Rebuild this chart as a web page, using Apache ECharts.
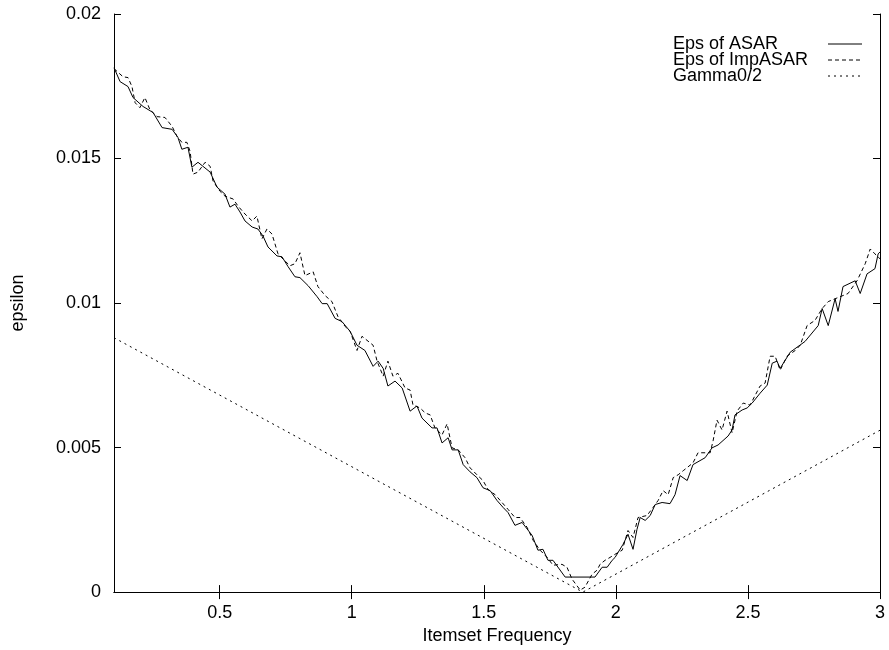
<!DOCTYPE html>
<html>
<head>
<meta charset="utf-8">
<script src="https://cdn.jsdelivr.net/npm/echarts@6/dist/echarts.min.js"></script>
<style>
html, body { margin: 0; padding: 0; background: #fff; }
#main { width: 889px; height: 650px; }
</style>
</head>
<body>
<div id="main"></div>
<script>
// values
var asarX = [0.100,0.123,0.153,0.172,0.210,0.248,0.282,0.320,0.342,0.357,
	0.380,0.395,0.418,0.464,0.490,0.520,0.539,0.558,0.577,0.596,
	0.623,0.645,0.664,0.683,0.717,0.736,0.759,0.785,0.804,0.835,
	0.869,0.888,0.907,0.937,0.963,0.994,1.020,1.050,1.081,1.100,
	1.119,1.137,1.164,1.191,1.221,1.247,1.266,1.304,1.323,1.342,
	1.365,1.380,1.403,1.422,1.448,1.474,1.497,1.524,1.550,1.573,
	1.592,1.618,1.645,1.683,1.705,1.724,1.743,1.762,1.808,1.921,
	1.948,1.967,1.986,1.997,2.027,2.046,2.065,2.080,2.092,2.111,
	2.130,2.149,2.175,2.205,2.224,2.243,2.270,2.292,2.338,2.364,
	2.387,2.425,2.440,2.451,2.478,2.497,2.516,2.546,2.573,2.592,
	2.610,2.622,2.660,2.716,2.766,2.781,2.804,2.830,2.841,2.860,
	2.906,2.925,2.951,2.981,2.993,3.000];
var asarY = [0.01814,0.01766,0.01749,0.01711,0.01680,0.01659,0.01607,0.01601,0.01573,0.01532,
	0.01539,0.01470,0.01487,0.01453,0.01401,0.01377,0.01332,0.01342,0.01315,0.01284,
	0.01263,0.01256,0.01232,0.01194,0.01163,0.01160,0.01126,0.01091,0.01088,0.01060,
	0.01022,0.00998,0.00998,0.00947,0.00936,0.00902,0.00854,0.00836,0.00781,0.00799,
	0.00774,0.00713,0.00730,0.00706,0.00626,0.00644,0.00602,0.00568,0.00568,0.00516,
	0.00534,0.00492,0.00492,0.00441,0.00416,0.00396,0.00361,0.00351,0.00317,0.00293,
	0.00275,0.00231,0.00241,0.00196,0.00145,0.00148,0.00110,0.00110,0.00052,0.00052,
	0.00086,0.00086,0.00110,0.00120,0.00165,0.00200,0.00148,0.00217,0.00258,0.00248,
	0.00265,0.00303,0.00310,0.00306,0.00337,0.00403,0.00386,0.00441,0.00465,0.00499,
	0.00509,0.00540,0.00561,0.00613,0.00630,0.00637,0.00654,0.00688,0.00716,0.00792,
	0.00799,0.00774,0.00830,0.00867,0.00922,0.00981,0.00922,0.01015,0.00971,0.01057,
	0.01077,0.01033,0.01101,0.01119,0.01170,0.01177];

var impX = [0.100,0.134,0.153,0.168,0.180,0.198,0.217,0.236,0.263,0.293,
	0.320,0.339,0.357,0.376,0.388,0.399,0.418,0.445,0.464,0.475,
	0.501,0.520,0.551,0.570,0.596,0.623,0.641,0.660,0.679,0.698,
	0.721,0.747,0.766,0.785,0.804,0.823,0.854,0.872,0.899,0.925,
	0.948,0.975,0.994,1.020,1.039,1.081,1.096,1.119,1.137,1.156,
	1.175,1.202,1.221,1.232,1.259,1.278,1.297,1.315,1.342,1.361,
	1.380,1.403,1.429,1.448,1.474,1.497,1.516,1.543,1.569,1.592,
	1.618,1.637,1.664,1.687,1.713,1.740,1.762,1.796,1.815,1.834,
	1.865,1.883,1.910,1.929,1.940,1.959,1.978,1.997,2.024,2.046,
	2.065,2.084,2.118,2.141,2.160,2.179,2.198,2.217,2.236,2.255,
	2.292,2.311,2.357,2.368,2.383,2.402,2.421,2.440,2.459,2.482,
	2.508,2.546,2.565,2.584,2.603,2.622,2.648,2.679,2.698,2.724,
	2.754,2.781,2.804,2.849,2.879,2.913,2.944,2.963,2.981,3.000];
var impY = [0.01811,0.01783,0.01780,0.01749,0.01693,0.01676,0.01711,0.01669,0.01645,0.01642,
	0.01611,0.01576,0.01556,0.01556,0.01525,0.01446,0.01453,0.01487,0.01473,0.01422,
	0.01387,0.01370,0.01360,0.01335,0.01308,0.01284,0.01301,0.01222,0.01256,0.01239,
	0.01170,0.01146,0.01129,0.01136,0.01174,0.01095,0.01108,0.01057,0.01026,0.01005,
	0.00953,0.00919,0.00902,0.00836,0.00885,0.00854,0.00799,0.00747,0.00799,0.00747,
	0.00757,0.00706,0.00699,0.00647,0.00637,0.00620,0.00613,0.00568,0.00544,0.00582,
	0.00499,0.00492,0.00465,0.00430,0.00406,0.00386,0.00355,0.00337,0.00310,0.00286,
	0.00258,0.00258,0.00224,0.00179,0.00145,0.00120,0.00093,0.00096,0.00086,0.00045,
	0.00007,0.00017,0.00062,0.00076,0.00096,0.00110,0.00120,0.00131,0.00145,0.00213,
	0.00189,0.00258,0.00265,0.00293,0.00317,0.00351,0.00337,0.00396,0.00406,0.00420,
	0.00447,0.00482,0.00482,0.00523,0.00595,0.00561,0.00626,0.00551,0.00626,0.00654,
	0.00647,0.00713,0.00723,0.00816,0.00816,0.00768,0.00816,0.00836,0.00854,0.00922,
	0.00940,0.00981,0.01005,0.01022,0.01033,0.01077,0.01136,0.01187,0.01170,0.01153];

var gammaX = [0.1, 1.875, 3];
var gammaY = [0.0088, 0, 0.0056];

var seriesNames = ['Eps of ASAR', 'Eps of ImpASAR', 'Gamma0/2'];
var xTicks = [0.5, 1, 1.5, 2, 2.5, 3];
var xTickLabels = ['0.5', '1', '1.5', '2', '2.5', '3'];
var yTickLabels = ['0', '0.005', '0.01', '0.015', '0.02'];

function zip(xs, ys) {
	var out = [];
	for (var i = 0; i < xs.length; i++) {
		out.push([xs[i], ys[i]]);
	}
	return out;
}

var font = "'Liberation Sans', Arial, sans-serif";
var black = '#000';

function lineSeries(name, xs, ys, dash) {
	return {
		name: name,
		type: 'line',
		symbol: 'none',
		data: zip(xs, ys),
		itemStyle: { color: black },
		lineStyle: { color: black, width: 1, type: dash },
		silent: true
	};
}

var chart = echarts.init(document.getElementById('main'));

chart.setOption({
	animation: false,
	backgroundColor: '#fff',
	textStyle: { fontFamily: font, color: black },
	grid: { left: 114, right: 9, top: 14, bottom: 55 },
	legend: {
		orient: 'vertical',
		left: 673,
		top: 35,
		padding: 0,
		align: 'right',
		itemWidth: 34,
		itemHeight: 10,
		itemGap: -2,
		selectedMode: false,
		data: seriesNames,
		itemStyle: { opacity: 0 },
		lineStyle: { width: 1 },
		// labels left-aligned in a fixed box, samples on the right
		formatter: function (name) {
			return '{t|' + name + '}';
		},
		textStyle: {
			rich: {
				t: { fontFamily: font, fontSize: 18, color: black, width: 150, align: 'left', lineHeight: 16.5 }
			}
		}
	},
	xAxis: [{
		type: 'value',
		min: 0.1,
		max: 3,
		position: 'bottom',
		name: 'Itemset Frequency',
		nameLocation: 'middle',
		nameGap: 34,
		nameTextStyle: { fontFamily: font, fontSize: 18, color: black },
		axisLine: { show: true, lineStyle: { color: black, width: 1 } },
		axisTick: { show: true, inside: true, length: 7, customValues: xTicks, lineStyle: { color: black } },
		axisLabel: {
			customValues: xTicks,
			margin: 12,
			fontSize: 18,
			color: black,
			formatter: function (v) {
				return xTickLabels[xTicks.indexOf(v)];
			}
		},
		splitLine: { show: false }
	}, {
		type: 'value',
		min: 0.1,
		max: 3,
		position: 'top',
		axisLine: { show: true, lineStyle: { color: black, width: 1 } },
		axisTick: { show: true, inside: true, length: 7, customValues: xTicks, lineStyle: { color: black } },
		axisLabel: { show: false },
		splitLine: { show: false }
	}],
	yAxis: [{
		type: 'value',
		min: 0,
		max: 0.02,
		interval: 0.005,
		position: 'left',
		name: 'epsilon',
		nameLocation: 'middle',
		nameGap: 87,
		nameTextStyle: { fontFamily: font, fontSize: 18, color: black },
		axisLine: { show: true, lineStyle: { color: black, width: 1 } },
		axisTick: { show: true, inside: true, length: 7, lineStyle: { color: black } },
		axisLabel: {
			margin: 13,
			fontSize: 18,
			color: black,
			formatter: function (v) {
				return yTickLabels[Math.round(v / 0.005)];
			}
		},
		splitLine: { show: false }
	}, {
		type: 'value',
		min: 0,
		max: 0.02,
		interval: 0.005,
		position: 'right',
		axisLine: { show: true, lineStyle: { color: black, width: 1 } },
		axisTick: { show: true, inside: true, length: 7, lineStyle: { color: black } },
		axisLabel: { show: false },
		splitLine: { show: false }
	}],
	series: [
		lineSeries(seriesNames[0], asarX, asarY, 'solid'),
		lineSeries(seriesNames[1], impX, impY, [4, 3]),
		lineSeries(seriesNames[2], gammaX, gammaY, [2, 4])
	]
});
</script>
</body>
</html>
